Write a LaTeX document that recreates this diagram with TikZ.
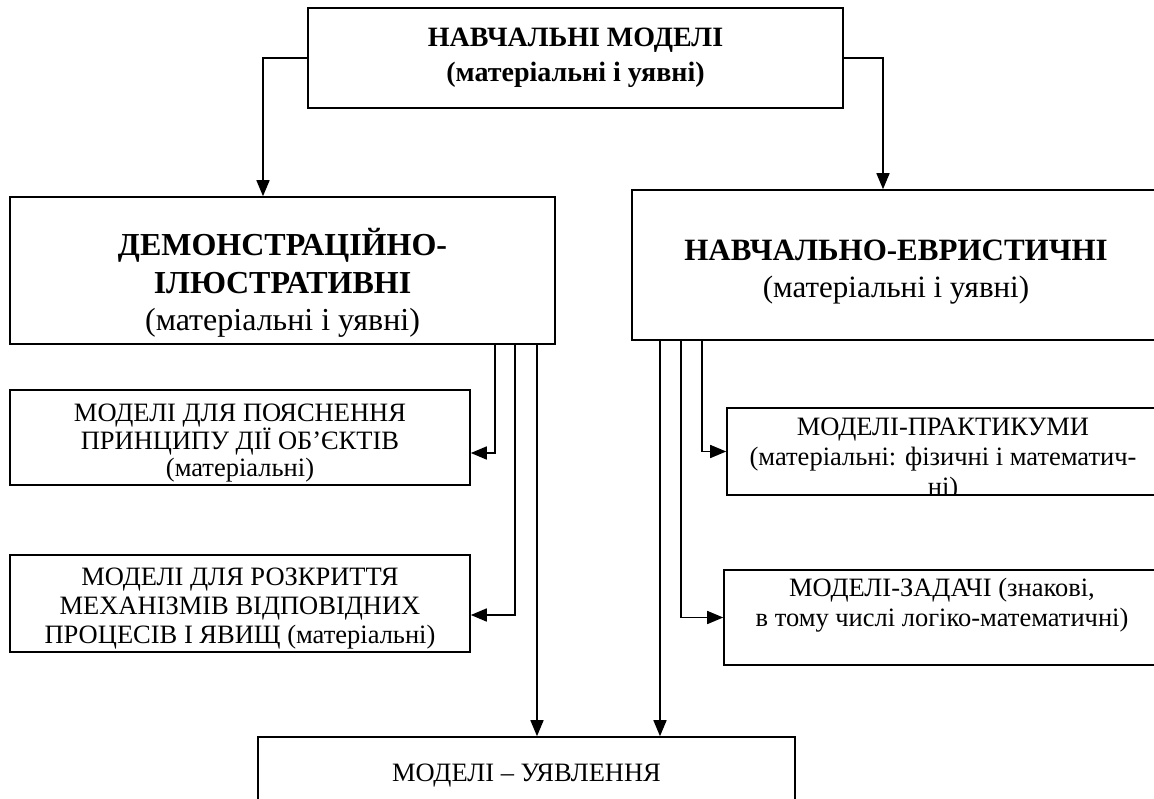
\documentclass[tikz,border=0pt]{standalone}
\usepackage{fontspec}
\setmainfont{Liberation Serif}
\usetikzlibrary{arrows.meta, positioning}

\begin{document}
\begin{tikzpicture}[x=1pt, y=-1pt,
  box/.style={draw, line width=1.6pt, align=center, inner sep=0pt},
  sbox/.style={box, font=\fontsize{26.5}{29}\selectfont},
  conn/.style={line width=1.6pt, -{Triangle[length=16pt, width=13pt]}}
]
  \clip (0,0) rectangle (1154,798);

  % top level
  \node[box, font=\fontsize{28}{35}\selectfont, minimum width=535pt, minimum height=100pt] (top) at (575.5,58)
    {\textbf{НАВЧАЛЬНІ МОДЕЛІ}\\\textbf{(матеріальні і уявні)}};

  % two groups
  \node[box, font=\fontsize{32}{37.5}\selectfont, minimum width=545pt, minimum height=147pt] (demo) at (282.5,270.5)
    {\rule{0pt}{52pt}\textbf{ДЕМОНСТРАЦІЙНО-}\\\textbf{ІЛЮСТРАТИВНІ}\\(матеріальні і уявні)};
  \node[box, font=\fontsize{31}{37}\selectfont, minimum width=528pt, minimum height=150pt] (evr) at (896,265)
    {\rule{0pt}{34pt}\textbf{НАВЧАЛЬНО-ЕВРИСТИЧНІ}\\(матеріальні і уявні)};

  % left column
  \node[sbox, font=\fontsize{26.5}{27}\selectfont, minimum width=460pt, minimum height=95pt] (princ) at (240,437.5)
    {\rule{0pt}{29pt}МОДЕЛІ ДЛЯ ПОЯСНЕННЯ\\ПРИНЦИПУ ДІЇ ОБ’ЄКТІВ\\(матеріальні)};
  \node[sbox, minimum width=460pt, minimum height=97pt] (mech) at (240,603.5)
    {\rule{0pt}{28pt}МОДЕЛІ ДЛЯ РОЗКРИТТЯ\\МЕХАНІЗМІВ ВІДПОВІДНИХ\\ПРОЦЕСІВ І ЯВИЩ (матеріальні)};

  % right column
  \begin{scope}
    \clip (727,408) rectangle (1160,495);
    \node[sbox, draw=none, font=\fontsize{26.5}{30}\selectfont, anchor=north] (praktxt) at (943,417.5)
      {МОДЕЛІ-ПРАКТИКУМИ\\(матеріальні: фізичні і математич-\\ні)};
  \end{scope}
  \node[box, minimum width=433pt, minimum height=87pt] (prak) at (943.5,451.5) {};
  \node[sbox, font=\fontsize{26.5}{30}\selectfont, minimum width=436pt, minimum height=95pt, text depth=30pt] (zad) at (942,617.5)
    {МОДЕЛІ-ЗАДАЧІ (знакові,\\в тому числі логіко-математичні)};

  % bottom
  \node[sbox, minimum width=537pt, minimum height=90pt, text depth=18pt] (uyav) at (526.5,782)
    {МОДЕЛІ – УЯВЛЕННЯ};

  % connectors
  \draw[conn] (top.west) -| ([xshift=-19.5pt]demo.north);
  \draw[conn] (top.east) -| ([xshift=-13pt]evr.north);

  \draw[conn] ([xshift=212.5pt]demo.south) |- ([yshift=-15.5pt]princ.east);
  \draw[conn] ([xshift=232.5pt]demo.south) |- ([yshift=-11.5pt]mech.east);
  \draw[conn] ([xshift=254.5pt]demo.south) -- ([xshift=254.5pt]demo.south |- uyav.north);

  \draw[conn] ([xshift=-236pt]evr.south) -- ([xshift=-236pt]evr.south |- uyav.north);
  \draw[conn] ([xshift=-215pt]evr.south) |- (zad.west);
  \draw[conn] ([xshift=-194pt]evr.south) |- (prak.west);
\end{tikzpicture}
\end{document}
